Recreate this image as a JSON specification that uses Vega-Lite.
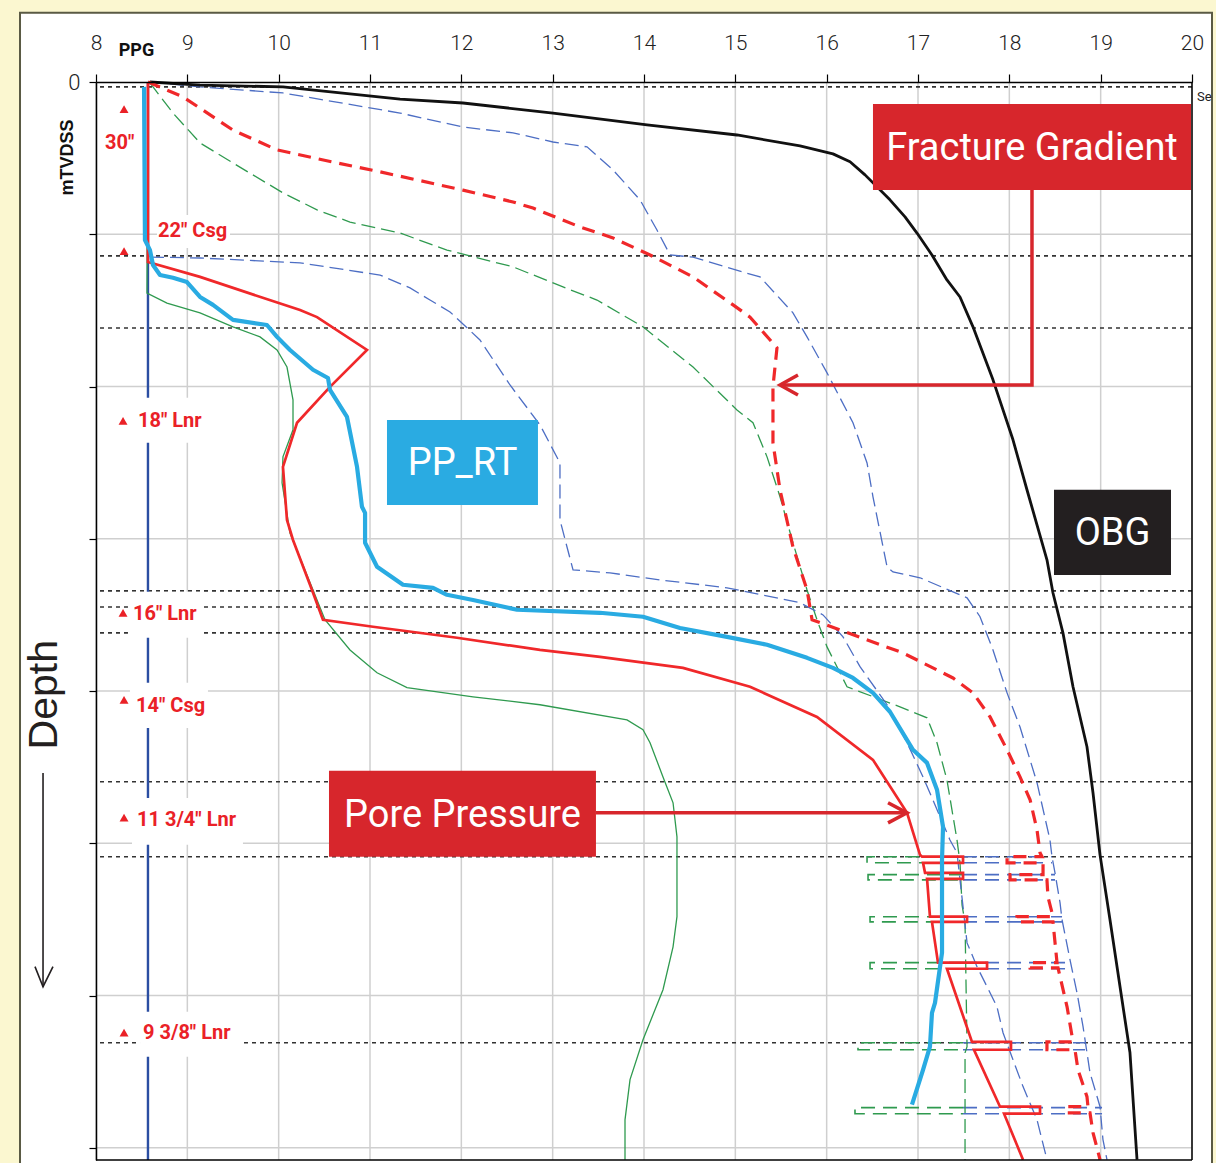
{
"$schema":"https://vega.github.io/schema/vega-lite/v6.json",
"width":1096,"height":1078,
"autosize":{"type":"none"},
"padding":{"left":96,"top":82,"right":24,"bottom":3},
"background":"#fbf7d0",
"config":{"view":{"stroke":null},"font":"Roboto"},
"datasets":{
"lines":[
{"s":"GL","o":1,"x":8.569,"d":0},{"s":"GL","o":2,"x":8.558,"d":693},{"s":"GL","o":3,"x":8.777,"d":726},{"s":"GL","o":4,"x":9.139,"d":758},{"s":"GL","o":5,"x":9.5,"d":804},{"s":"GL","o":6,"x":9.796,"d":837},{"s":"GL","o":7,"x":9.982,"d":880},{"s":"GL","o":8,"x":10.091,"d":936},{"s":"GL","o":9,"x":10.157,"d":1044},{"s":"GL","o":10,"x":10.157,"d":1142},{"s":"GL","o":11,"x":10.047,"d":1231},{"s":"GL","o":12,"x":10.037,"d":1316},{"s":"GL","o":13,"x":10.124,"d":1481},{"s":"GL","o":14,"x":10.376,"d":1668},{"s":"GL","o":15,"x":10.507,"d":1766},{"s":"GL","o":16,"x":10.781,"d":1865},{"s":"GL","o":17,"x":11.077,"d":1940},{"s":"GL","o":18,"x":11.405,"d":1989},{"s":"GL","o":19,"x":12.128,"d":2019},{"s":"GL","o":20,"x":12.861,"d":2045},{"s":"GL","o":21,"x":13.814,"d":2095},{"s":"GL","o":22,"x":13.989,"d":2127},{"s":"GL","o":23,"x":14.066,"d":2170},{"s":"GL","o":24,"x":14.208,"d":2282},{"s":"GL","o":25,"x":14.318,"d":2367},{"s":"GL","o":26,"x":14.361,"d":2479},{"s":"GL","o":27,"x":14.361,"d":2741},{"s":"GL","o":28,"x":14.318,"d":2840},{"s":"GL","o":29,"x":14.208,"d":2981},{"s":"GL","o":30,"x":13.989,"d":3145},{"s":"GL","o":31,"x":13.847,"d":3276},{"s":"GL","o":32,"x":13.792,"d":3408},{"s":"GL","o":33,"x":13.792,"d":3539},
{"s":"GU","o":1,"x":8.591,"d":3},{"s":"GU","o":2,"x":8.843,"d":102},{"s":"GU","o":3,"x":9.139,"d":200},{"s":"GU","o":4,"x":9.5,"d":266},{"s":"GU","o":5,"x":10.047,"d":364},{"s":"GU","o":6,"x":10.42,"d":420},{"s":"GU","o":7,"x":10.781,"d":460},{"s":"GU","o":8,"x":11.329,"d":496},{"s":"GU","o":9,"x":11.843,"d":552},{"s":"GU","o":10,"x":12.566,"d":607},{"s":"GU","o":11,"x":13.113,"d":673},{"s":"GU","o":12,"x":13.485,"d":716},{"s":"GU","o":13,"x":13.989,"d":804},{"s":"GU","o":14,"x":14.537,"d":936},{"s":"GU","o":15,"x":15.018,"d":1077},{"s":"GU","o":16,"x":15.193,"d":1119},{"s":"GU","o":17,"x":15.347,"d":1231},{"s":"GU","o":18,"x":15.489,"d":1362},{"s":"GU","o":19,"x":15.631,"d":1513},{"s":"GU","o":20,"x":15.785,"d":1668},{"s":"GU","o":21,"x":15.894,"d":1766},{"s":"GU","o":22,"x":16.004,"d":1855},{"s":"GU","o":23,"x":16.223,"d":1986},{"s":"GU","o":24,"x":16.803,"d":2052},{"s":"GU","o":25,"x":17.099,"d":2088},{"s":"GU","o":26,"x":17.208,"d":2170},{"s":"GU","o":27,"x":17.317,"d":2292},{"s":"GU","o":28,"x":17.427,"d":2489},{"s":"GU","o":29,"x":17.46,"d":2564},{"s":"GU","o":30,"x":17.482,"d":2702},{"s":"GU","o":31,"x":17.515,"d":2761},{"s":"GU","o":32,"x":17.537,"d":3168},{"s":"GU","o":33,"x":17.515,"d":3188},{"s":"GU","o":34,"x":17.515,"d":3539},
{"s":"BM","o":1,"x":8.591,"d":575},{"s":"BM","o":2,"x":9.139,"d":578},{"s":"BM","o":3,"x":10.234,"d":594},{"s":"BM","o":4,"x":11.11,"d":634},{"s":"BM","o":5,"x":11.438,"d":676},{"s":"BM","o":6,"x":11.657,"d":716},{"s":"BM","o":7,"x":11.876,"d":755},{"s":"BM","o":8,"x":12.204,"d":847},{"s":"BM","o":9,"x":12.533,"d":995},{"s":"BM","o":10,"x":12.861,"d":1126},{"s":"BM","o":11,"x":13.08,"d":1251},{"s":"BM","o":12,"x":13.08,"d":1438},{"s":"BM","o":13,"x":13.157,"d":1527},{"s":"BM","o":14,"x":13.223,"d":1602},{"s":"BM","o":15,"x":13.628,"d":1612},{"s":"BM","o":16,"x":14.175,"d":1635},{"s":"BM","o":17,"x":14.909,"d":1661},{"s":"BM","o":18,"x":15.708,"d":1710},{"s":"BM","o":19,"x":15.96,"d":1750},{"s":"BM","o":20,"x":16.179,"d":1822},{"s":"BM","o":21,"x":16.365,"d":1920},{"s":"BM","o":22,"x":16.661,"d":2045},{"s":"BM","o":23,"x":16.88,"d":2170},{"s":"BM","o":24,"x":17.055,"d":2282},{"s":"BM","o":25,"x":17.35,"d":2489},{"s":"BM","o":26,"x":17.427,"d":2531},{"s":"BM","o":27,"x":17.46,"d":2620},{"s":"BM","o":28,"x":17.493,"d":2708},{"s":"BM","o":29,"x":17.537,"d":2827},{"s":"BM","o":30,"x":17.646,"d":2905},{"s":"BM","o":31,"x":17.756,"d":2971},{"s":"BM","o":32,"x":17.865,"d":3037},{"s":"BM","o":33,"x":17.931,"d":3122},{"s":"BM","o":34,"x":18.04,"d":3211},{"s":"BM","o":35,"x":18.15,"d":3299},{"s":"BM","o":36,"x":18.303,"d":3408},{"s":"BM","o":37,"x":18.412,"d":3539},
{"s":"BR","o":1,"x":8.591,"d":0},{"s":"BR","o":2,"x":9.139,"d":16},{"s":"BR","o":3,"x":10.047,"d":36},{"s":"BR","o":4,"x":11.329,"d":102},{"s":"BR","o":5,"x":12.018,"d":148},{"s":"BR","o":6,"x":12.566,"d":167},{"s":"BR","o":7,"x":13.004,"d":197},{"s":"BR","o":8,"x":13.376,"d":213},{"s":"BR","o":9,"x":13.661,"d":289},{"s":"BR","o":10,"x":13.956,"d":387},{"s":"BR","o":11,"x":14.142,"d":486},{"s":"BR","o":12,"x":14.285,"d":568},{"s":"BR","o":13,"x":14.537,"d":575},{"s":"BR","o":14,"x":15.084,"d":624},{"s":"BR","o":15,"x":15.27,"d":640},{"s":"BR","o":16,"x":15.631,"d":758},{"s":"BR","o":17,"x":15.785,"d":837},{"s":"BR","o":18,"x":16.004,"d":955},{"s":"BR","o":19,"x":16.288,"d":1119},{"s":"BR","o":20,"x":16.442,"d":1251},{"s":"BR","o":21,"x":16.507,"d":1362},{"s":"BR","o":22,"x":16.661,"d":1592},{"s":"BR","o":23,"x":16.726,"d":1609},{"s":"BR","o":24,"x":17.022,"d":1628},{"s":"BR","o":25,"x":17.537,"d":1694},{"s":"BR","o":26,"x":17.679,"d":1756},{"s":"BR","o":27,"x":17.821,"d":1865},{"s":"BR","o":28,"x":17.975,"d":2006},{"s":"BR","o":29,"x":18.117,"d":2118},{"s":"BR","o":30,"x":18.303,"d":2301},{"s":"BR","o":31,"x":18.445,"d":2489},{"s":"BR","o":32,"x":18.467,"d":2544},{"s":"BR","o":33,"x":18.5,"d":2597},{"s":"BR","o":34,"x":18.555,"d":2695},{"s":"BR","o":35,"x":18.577,"d":2751},{"s":"BR","o":36,"x":18.664,"d":2882},{"s":"BR","o":37,"x":18.741,"d":2991},{"s":"BR","o":38,"x":18.807,"d":3102},{"s":"BR","o":39,"x":18.883,"d":3253},{"s":"BR","o":40,"x":18.993,"d":3365},{"s":"BR","o":41,"x":19.025,"d":3473},{"s":"BR","o":42,"x":19.069,"d":3539},
{"s":"OBG","o":1,"x":8.591,"d":0},{"s":"OBG","o":2,"x":9.139,"d":10},{"s":"OBG","o":3,"x":10.047,"d":16},{"s":"OBG","o":4,"x":11.329,"d":56},{"s":"OBG","o":5,"x":12.018,"d":69},{"s":"OBG","o":6,"x":13.004,"d":102},{"s":"OBG","o":7,"x":14.033,"d":141},{"s":"OBG","o":8,"x":15.018,"d":174},{"s":"OBG","o":9,"x":15.708,"d":210},{"s":"OBG","o":10,"x":16.069,"d":236},{"s":"OBG","o":11,"x":16.256,"d":262},{"s":"OBG","o":12,"x":16.42,"d":305},{"s":"OBG","o":13,"x":16.693,"d":387},{"s":"OBG","o":14,"x":16.858,"d":443},{"s":"OBG","o":15,"x":16.989,"d":496},{"s":"OBG","o":16,"x":17.153,"d":568},{"s":"OBG","o":17,"x":17.317,"d":650},{"s":"OBG","o":18,"x":17.46,"d":706},{"s":"OBG","o":19,"x":17.602,"d":804},{"s":"OBG","o":20,"x":17.821,"d":978},{"s":"OBG","o":21,"x":18.04,"d":1175},{"s":"OBG","o":22,"x":18.193,"d":1339},{"s":"OBG","o":23,"x":18.412,"d":1569},{"s":"OBG","o":24,"x":18.478,"d":1678},{"s":"OBG","o":25,"x":18.587,"d":1809},{"s":"OBG","o":26,"x":18.697,"d":1986},{"s":"OBG","o":27,"x":18.85,"d":2183},{"s":"OBG","o":28,"x":18.916,"d":2334},{"s":"OBG","o":29,"x":18.993,"d":2538},{"s":"OBG","o":30,"x":19.102,"d":2751},{"s":"OBG","o":31,"x":19.212,"d":2971},{"s":"OBG","o":32,"x":19.321,"d":3188},{"s":"OBG","o":33,"x":19.398,"d":3539},
{"s":"FG","o":1,"x":8.569,"d":0},{"s":"FG","o":2,"x":8.953,"d":49},{"s":"FG","o":3,"x":9.5,"d":158},{"s":"FG","o":4,"x":9.982,"d":223},{"s":"FG","o":5,"x":10.595,"d":263},{"s":"FG","o":6,"x":11.11,"d":295},{"s":"FG","o":7,"x":12.018,"d":355},{"s":"FG","o":8,"x":12.566,"d":394},{"s":"FG","o":9,"x":12.785,"d":414},{"s":"FG","o":10,"x":13.299,"d":476},{"s":"FG","o":11,"x":13.661,"d":512},{"s":"FG","o":12,"x":14.066,"d":568},{"s":"FG","o":13,"x":14.537,"d":640},{"s":"FG","o":14,"x":14.975,"d":732},{"s":"FG","o":15,"x":15.161,"d":772},{"s":"FG","o":16,"x":15.456,"d":873},{"s":"FG","o":17,"x":15.412,"d":1001},{"s":"FG","o":18,"x":15.412,"d":1185},{"s":"FG","o":19,"x":15.489,"d":1339},{"s":"FG","o":20,"x":15.631,"d":1527},{"s":"FG","o":21,"x":15.785,"d":1668},{"s":"FG","o":22,"x":15.84,"d":1766},{"s":"FG","o":23,"x":16.146,"d":1799},{"s":"FG","o":24,"x":16.836,"d":1875},{"s":"FG","o":25,"x":17.383,"d":1957},{"s":"FG","o":26,"x":17.602,"d":2006},{"s":"FG","o":27,"x":17.789,"d":2085},{"s":"FG","o":28,"x":17.975,"d":2193},{"s":"FG","o":29,"x":18.117,"d":2282},{"s":"FG","o":30,"x":18.227,"d":2357},{"s":"FG","o":31,"x":18.303,"d":2456},{"s":"FG","o":32,"x":18.336,"d":2531},{"s":"FG","o":33,"x":18.358,"d":2544},{"s":"FG","o":34,"x":17.975,"d":2544},{"s":"FG","o":35,"x":17.975,"d":2564},{"s":"FG","o":36,"x":18.369,"d":2564},{"s":"FG","o":37,"x":18.369,"d":2603},{"s":"FG","o":38,"x":18.008,"d":2603},{"s":"FG","o":39,"x":18.008,"d":2620},{"s":"FG","o":40,"x":18.412,"d":2620},{"s":"FG","o":41,"x":18.423,"d":2676},{"s":"FG","o":42,"x":18.478,"d":2741},{"s":"FG","o":43,"x":18.084,"d":2741},{"s":"FG","o":44,"x":18.084,"d":2758},{"s":"FG","o":45,"x":18.478,"d":2758},{"s":"FG","o":46,"x":18.522,"d":2892},{"s":"FG","o":47,"x":18.227,"d":2892},{"s":"FG","o":48,"x":18.227,"d":2909},{"s":"FG","o":49,"x":18.533,"d":2909},{"s":"FG","o":50,"x":18.632,"d":3037},{"s":"FG","o":51,"x":18.697,"d":3152},{"s":"FG","o":52,"x":18.412,"d":3152},{"s":"FG","o":53,"x":18.412,"d":3178},{"s":"FG","o":54,"x":18.719,"d":3178},{"s":"FG","o":55,"x":18.752,"d":3244},{"s":"FG","o":56,"x":18.85,"d":3332},{"s":"FG","o":57,"x":18.861,"d":3365},{"s":"FG","o":58,"x":18.632,"d":3365},{"s":"FG","o":59,"x":18.632,"d":3385},{"s":"FG","o":60,"x":18.883,"d":3385},{"s":"FG","o":61,"x":18.916,"d":3450},{"s":"FG","o":62,"x":18.993,"d":3539},
{"s":"PP","o":1,"x":8.569,"d":0},{"s":"PP","o":2,"x":8.569,"d":591},{"s":"PP","o":3,"x":9.139,"d":640},{"s":"PP","o":4,"x":10.234,"d":749},{"s":"PP","o":5,"x":10.42,"d":772},{"s":"PP","o":6,"x":10.967,"d":880},{"s":"PP","o":7,"x":10.562,"d":1001},{"s":"PP","o":8,"x":10.201,"d":1119},{"s":"PP","o":9,"x":10.047,"d":1264},{"s":"PP","o":10,"x":10.091,"d":1438},{"s":"PP","o":11,"x":10.157,"d":1504},{"s":"PP","o":12,"x":10.365,"d":1668},{"s":"PP","o":13,"x":10.485,"d":1766},{"s":"PP","o":14,"x":11.033,"d":1789},{"s":"PP","o":15,"x":11.953,"d":1825},{"s":"PP","o":16,"x":12.861,"d":1865},{"s":"PP","o":17,"x":13.518,"d":1888},{"s":"PP","o":18,"x":14.427,"d":1924},{"s":"PP","o":19,"x":15.161,"d":1986},{"s":"PP","o":20,"x":15.894,"d":2085},{"s":"PP","o":21,"x":16.507,"d":2226},{"s":"PP","o":22,"x":16.88,"d":2400},{"s":"PP","o":23,"x":17.022,"d":2538},{"s":"PP","o":24,"x":17.044,"d":2544},{"s":"PP","o":25,"x":17.493,"d":2544},{"s":"PP","o":26,"x":17.493,"d":2564},{"s":"PP","o":27,"x":17.055,"d":2564},{"s":"PP","o":28,"x":17.077,"d":2597},{"s":"PP","o":29,"x":17.493,"d":2597},{"s":"PP","o":30,"x":17.493,"d":2617},{"s":"PP","o":31,"x":17.099,"d":2617},{"s":"PP","o":32,"x":17.131,"d":2741},{"s":"PP","o":33,"x":17.537,"d":2741},{"s":"PP","o":34,"x":17.537,"d":2758},{"s":"PP","o":35,"x":17.153,"d":2758},{"s":"PP","o":36,"x":17.219,"d":2892},{"s":"PP","o":37,"x":17.756,"d":2892},{"s":"PP","o":38,"x":17.756,"d":2912},{"s":"PP","o":39,"x":17.317,"d":2912},{"s":"PP","o":40,"x":17.591,"d":3152},{"s":"PP","o":41,"x":18.018,"d":3152},{"s":"PP","o":42,"x":18.018,"d":3178},{"s":"PP","o":43,"x":17.613,"d":3178},{"s":"PP","o":44,"x":17.898,"d":3365},{"s":"PP","o":45,"x":18.336,"d":3365},{"s":"PP","o":46,"x":18.336,"d":3388},{"s":"PP","o":47,"x":17.942,"d":3388},{"s":"PP","o":48,"x":18.15,"d":3539},
{"s":"PPRT","o":1,"x":8.526,"d":16},{"s":"PPRT","o":2,"x":8.536,"d":519},{"s":"PPRT","o":3,"x":8.591,"d":552},{"s":"PPRT","o":4,"x":8.624,"d":601},{"s":"PPRT","o":5,"x":8.701,"d":634},{"s":"PPRT","o":6,"x":8.843,"d":643},{"s":"PPRT","o":7,"x":8.996,"d":657},{"s":"PPRT","o":8,"x":9.139,"d":706},{"s":"PPRT","o":9,"x":9.281,"d":732},{"s":"PPRT","o":10,"x":9.5,"d":781},{"s":"PPRT","o":11,"x":9.872,"d":798},{"s":"PPRT","o":12,"x":9.982,"d":837},{"s":"PPRT","o":13,"x":10.124,"d":880},{"s":"PPRT","o":14,"x":10.376,"d":945},{"s":"PPRT","o":15,"x":10.54,"d":972},{"s":"PPRT","o":16,"x":10.562,"d":1011},{"s":"PPRT","o":17,"x":10.748,"d":1100},{"s":"PPRT","o":18,"x":10.858,"d":1264},{"s":"PPRT","o":19,"x":10.912,"d":1395},{"s":"PPRT","o":20,"x":10.946,"d":1415},{"s":"PPRT","o":21,"x":10.946,"d":1513},{"s":"PPRT","o":22,"x":11.077,"d":1592},{"s":"PPRT","o":23,"x":11.361,"d":1651},{"s":"PPRT","o":24,"x":11.69,"d":1661},{"s":"PPRT","o":25,"x":11.843,"d":1684},{"s":"PPRT","o":26,"x":12.128,"d":1701},{"s":"PPRT","o":27,"x":12.61,"d":1733},{"s":"PPRT","o":28,"x":13.518,"d":1743},{"s":"PPRT","o":29,"x":13.989,"d":1756},{"s":"PPRT","o":30,"x":14.394,"d":1793},{"s":"PPRT","o":31,"x":14.909,"d":1822},{"s":"PPRT","o":32,"x":15.347,"d":1848},{"s":"PPRT","o":33,"x":15.785,"d":1891},{"s":"PPRT","o":34,"x":16.069,"d":1924},{"s":"PPRT","o":35,"x":16.288,"d":1957},{"s":"PPRT","o":36,"x":16.507,"d":2006},{"s":"PPRT","o":37,"x":16.693,"d":2068},{"s":"PPRT","o":38,"x":16.945,"d":2193},{"s":"PPRT","o":39,"x":17.099,"d":2236},{"s":"PPRT","o":40,"x":17.208,"d":2324},{"s":"PPRT","o":41,"x":17.274,"d":2446},{"s":"PPRT","o":42,"x":17.263,"d":2554},{"s":"PPRT","o":43,"x":17.263,"d":2859},{"s":"PPRT","o":44,"x":17.186,"d":3024},{"s":"PPRT","o":45,"x":17.153,"d":3057},{"s":"PPRT","o":46,"x":17.131,"d":3168},{"s":"PPRT","o":47,"x":17.055,"d":3244},{"s":"PPRT","o":48,"x":16.934,"d":3358}
],
"stepsG":[
{"g":"g1","o":1,"x":17.493,"d":2544},{"g":"g1","o":2,"x":16.442,"d":2544},{"g":"g1","o":3,"x":16.442,"d":2564},{"g":"g1","o":4,"x":17.493,"d":2564},
{"g":"g2","o":1,"x":17.493,"d":2603},{"g":"g2","o":2,"x":16.453,"d":2603},{"g":"g2","o":3,"x":16.453,"d":2620},{"g":"g2","o":4,"x":17.493,"d":2620},
{"g":"g3","o":1,"x":17.493,"d":2741},{"g":"g3","o":2,"x":16.475,"d":2741},{"g":"g3","o":3,"x":16.475,"d":2758},{"g":"g3","o":4,"x":17.493,"d":2758},
{"g":"g4","o":1,"x":17.493,"d":2892},{"g":"g4","o":2,"x":16.475,"d":2892},{"g":"g4","o":3,"x":16.475,"d":2912},{"g":"g4","o":4,"x":17.493,"d":2912},
{"g":"g5","o":1,"x":17.493,"d":3155},{"g":"g5","o":2,"x":16.343,"d":3155},{"g":"g5","o":3,"x":16.343,"d":3178},{"g":"g5","o":4,"x":17.493,"d":3178},
{"g":"g6","o":1,"x":17.493,"d":3368},{"g":"g6","o":2,"x":16.31,"d":3368},{"g":"g6","o":3,"x":16.31,"d":3388},{"g":"g6","o":4,"x":17.493,"d":3388}
],
"stepsB":[
{"g":"b1a","o":1,"x":17.493,"d":2544},{"g":"b1a","o":2,"x":18.467,"d":2544},{"g":"b1b","o":1,"x":17.493,"d":2564},{"g":"b1b","o":2,"x":18.467,"d":2564},
{"g":"b2a","o":1,"x":17.493,"d":2603},{"g":"b2a","o":2,"x":18.5,"d":2603},{"g":"b2b","o":1,"x":17.493,"d":2620},{"g":"b2b","o":2,"x":18.5,"d":2620},
{"g":"b3a","o":1,"x":17.493,"d":2741},{"g":"b3a","o":2,"x":18.577,"d":2741},{"g":"b3b","o":1,"x":17.493,"d":2758},{"g":"b3b","o":2,"x":18.577,"d":2758},
{"g":"b4a","o":1,"x":17.493,"d":2892},{"g":"b4a","o":2,"x":18.686,"d":2892},{"g":"b4b","o":1,"x":17.493,"d":2912},{"g":"b4b","o":2,"x":18.686,"d":2912},
{"g":"b5a","o":1,"x":17.493,"d":3155},{"g":"b5a","o":2,"x":18.829,"d":3155},{"g":"b5b","o":1,"x":17.493,"d":3178},{"g":"b5b","o":2,"x":18.829,"d":3178},
{"g":"b6a","o":1,"x":17.493,"d":3368},{"g":"b6a","o":2,"x":19.015,"d":3368},{"g":"b6b","o":1,"x":17.493,"d":3388},{"g":"b6b","o":2,"x":19.015,"d":3388}
],
"arrows":[
{"g":"fa","o":1,"x":18.248,"d":355},{"g":"fa","o":2,"x":18.248,"d":995},{"g":"fa","o":3,"x":15.489,"d":995},
{"g":"fh","o":1,"x":15.686,"d":962},{"g":"fh","o":2,"x":15.489,"d":995},{"g":"fh","o":3,"x":15.686,"d":1028},
{"g":"pa","o":1,"x":13.474,"d":2400},{"g":"pa","o":2,"x":16.88,"d":2400},
{"g":"ph","o":1,"x":16.672,"d":2367},{"g":"ph","o":2,"x":16.88,"d":2400},{"g":"ph","o":3,"x":16.672,"d":2433}
]
},
"layer":[
{"data":{"values":[{"x":7.168,"x2":20.219,"d":-227,"d2":3600}]},
 "mark":{"type":"rect","fill":"#ffffff","stroke":"#5a5a44","strokeWidth":2},
 "encoding":{
  "x":{"field":"x","type":"quantitative","scale":{"domain":[8,20],"nice":false,"zero":false},
   "axis":{"orient":"top","values":[8,9,10,11,12,13,14,15,16,17,18,19,20],"format":"d","grid":false,"zindex":1,"labelFlush":false,"labelOverlap":false,
    "domainColor":"#000000","domainWidth":1.5,"tickColor":"#000000","tickSize":8,"tickWidth":1.2,
    "labelFont":"Roboto","labelFontWeight":300,"labelFontSize":21,"labelColor":"#222222","labelPadding":21,
    "title":"PPG","titleFont":"Roboto","titleFontSize":18,"titleFontWeight":"bold","titleColor":"#111111",
    "titleX":40,"titleY":-32,"titleAlign":"center","titleBaseline":"middle","titleAngle":0}},
  "x2":{"field":"x2"},
  "y":{"field":"d","type":"quantitative","scale":{"domain":[0,3540],"nice":false,"zero":false,"reverse":true},
   "axis":{"values":[0,500,1000,1500,2000,2500,3000,3500],"grid":false,"zindex":1,
    "domainColor":"#000000","domainWidth":1.5,"tickColor":"#000000","tickSize":7,"tickWidth":1.2,
    "labelExpr":"datum.value == 0 ? '0' : ''","labelFont":"Roboto","labelFontWeight":300,"labelFontSize":22,"labelColor":"#222222","labelPadding":9,
    "title":"mTVDSS","titleFont":"Liberation Sans","titleFontSize":18,"titleFontWeight":"bold","titleColor":"#111111",
    "titleX":-29,"titleY":75,"titleAlign":"center","titleBaseline":"middle","titleAngle":270}},
  "y2":{"field":"d2"}}},
{"data":{"values":[{"x":8},{"x":9},{"x":10},{"x":11},{"x":12},{"x":13},{"x":14},{"x":15},{"x":16},{"x":17},{"x":18},{"x":19},{"x":20}]},
 "mark":{"type":"rule","color":"#cfcfcf","strokeWidth":1.5},
 "encoding":{"x":{"field":"x","type":"quantitative"}}},
{"data":{"values":[{"d":500},{"d":1000},{"d":1500},{"d":2000},{"d":2500},{"d":3000},{"d":3500}]},
 "mark":{"type":"rule","color":"#cfcfcf","strokeWidth":1.5},
 "encoding":{"y":{"field":"d","type":"quantitative"}}},
{"data":{"values":[{"d":16},{"d":571},{"d":808},{"d":1671},{"d":1724},{"d":1809},{"d":2298},{"d":2544},{"d":3155}]},
 "mark":{"type":"rule","color":"#333333","strokeWidth":1.6,"strokeDash":[4,4]},
 "encoding":{"y":{"field":"d","type":"quantitative"}}},
{"data":{"values":[{"x":8.569}]},
 "mark":{"type":"rule","color":"#2b4ea2","strokeWidth":2.4},
 "encoding":{"x":{"field":"x","type":"quantitative"}}},
{"data":{"values":[
  {"x":8.668,"x2":9.467,"d":437,"d2":545},
  {"x":8.372,"x2":9.215,"d":1037,"d2":1185},
  {"x":8.35,"x2":9.139,"d":1674,"d2":1825},
  {"x":8.372,"x2":9.226,"d":1973,"d2":2121},
  {"x":8.394,"x2":9.609,"d":2351,"d2":2505},
  {"x":8.482,"x2":9.609,"d":3053,"d2":3201}]},
 "mark":{"type":"rect","fill":"#ffffff"},
 "encoding":{"x":{"field":"x","type":"quantitative"},"x2":{"field":"x2"},"y":{"field":"d","type":"quantitative"},"y2":{"field":"d2"}}},
{"data":{"name":"stepsG"},
 "mark":{"type":"line","color":"#2f9a4f","strokeWidth":1.6,"strokeDash":[14,8]},
 "encoding":{"x":{"field":"x","type":"quantitative"},"y":{"field":"d","type":"quantitative"},"detail":{"field":"g"},"order":{"field":"o"}}},
{"data":{"name":"stepsB"},
 "mark":{"type":"line","color":"#4d6ec4","strokeWidth":1.6,"strokeDash":[14,8]},
 "encoding":{"x":{"field":"x","type":"quantitative"},"y":{"field":"d","type":"quantitative"},"detail":{"field":"g"},"order":{"field":"o"}}},
{"data":{"name":"lines"},"transform":[{"filter":"datum.s == 'GL'"}],
 "mark":{"type":"line","color":"#2f9a4f","strokeWidth":1.3},
 "encoding":{"x":{"field":"x","type":"quantitative"},"y":{"field":"d","type":"quantitative"},"order":{"field":"o"}}},
{"data":{"name":"lines"},"transform":[{"filter":"datum.s == 'GU'"}],
 "mark":{"type":"line","color":"#2f9a4f","strokeWidth":1.3,"strokeDash":[14,6]},
 "encoding":{"x":{"field":"x","type":"quantitative"},"y":{"field":"d","type":"quantitative"},"order":{"field":"o"}}},
{"data":{"name":"lines"},"transform":[{"filter":"datum.s == 'BM'"}],
 "mark":{"type":"line","color":"#4d6ec4","strokeWidth":1.3,"strokeDash":[14,6]},
 "encoding":{"x":{"field":"x","type":"quantitative"},"y":{"field":"d","type":"quantitative"},"order":{"field":"o"}}},
{"data":{"name":"lines"},"transform":[{"filter":"datum.s == 'BR'"}],
 "mark":{"type":"line","color":"#4d6ec4","strokeWidth":1.3,"strokeDash":[14,6]},
 "encoding":{"x":{"field":"x","type":"quantitative"},"y":{"field":"d","type":"quantitative"},"order":{"field":"o"}}},
{"data":{"name":"lines"},"transform":[{"filter":"datum.s == 'OBG'"}],
 "mark":{"type":"line","color":"#111111","strokeWidth":2.8,"strokeJoin":"round"},
 "encoding":{"x":{"field":"x","type":"quantitative"},"y":{"field":"d","type":"quantitative"},"order":{"field":"o"}}},
{"data":{"name":"lines"},"transform":[{"filter":"datum.s == 'FG'"}],
 "mark":{"type":"line","color":"#f0282a","strokeWidth":3.2,"strokeDash":[13,8]},
 "encoding":{"x":{"field":"x","type":"quantitative"},"y":{"field":"d","type":"quantitative"},"order":{"field":"o"}}},
{"data":{"name":"lines"},"transform":[{"filter":"datum.s == 'PP'"}],
 "mark":{"type":"line","color":"#f0282a","strokeWidth":2.7},
 "encoding":{"x":{"field":"x","type":"quantitative"},"y":{"field":"d","type":"quantitative"},"order":{"field":"o"}}},
{"data":{"name":"lines"},"transform":[{"filter":"datum.s == 'PPRT'"}],
 "mark":{"type":"line","color":"#29abe2","strokeWidth":4.2,"strokeJoin":"round"},
 "encoding":{"x":{"field":"x","type":"quantitative"},"y":{"field":"d","type":"quantitative"},"order":{"field":"o"}}},
{"data":{"values":[{"x":20}]},
 "mark":{"type":"rule","color":"#000000","strokeWidth":1.5},
 "encoding":{"x":{"field":"x","type":"quantitative"}}},
{"data":{"values":[{"d":3540}]},
 "mark":{"type":"rule","color":"#000000","strokeWidth":1.5},
 "encoding":{"y":{"field":"d","type":"quantitative"}}},
{"data":{"values":[
  {"x":16.507,"x2":19.989,"d":72,"d2":355,"c":"#d7262c"},
  {"x":11.186,"x2":12.839,"d":1110,"d2":1389,"c":"#2aabe2"},
  {"x":18.489,"x2":19.77,"d":1339,"d2":1619,"c":"#231f20"},
  {"x":10.551,"x2":13.474,"d":2262,"d2":2544,"c":"#d7262c"}]},
 "mark":{"type":"rect"},
 "encoding":{"x":{"field":"x","type":"quantitative"},"x2":{"field":"x2"},"y":{"field":"d","type":"quantitative"},"y2":{"field":"d2"},
  "fill":{"field":"c","type":"nominal","scale":null,"legend":null}}},
{"data":{"name":"arrows"},
 "mark":{"type":"line","color":"#d7262c","strokeWidth":3.5},
 "encoding":{"x":{"field":"x","type":"quantitative"},"y":{"field":"d","type":"quantitative"},"detail":{"field":"g"},"order":{"field":"o"}}},
{"data":{"values":[
  {"t":"Fracture Gradient","x":18.248,"d":213},
  {"t":"PP_RT","x":12.013,"d":1249},
  {"t":"OBG","x":19.13,"d":1479},
  {"t":"Pore Pressure","x":12.013,"d":2403}]},
 "mark":{"type":"text","color":"#ffffff","font":"Roboto","fontSize":38,"align":"center","baseline":"middle","dy":2},
 "encoding":{"x":{"field":"x","type":"quantitative"},"y":{"field":"d","type":"quantitative"},"text":{"field":"t"}}},
{"data":{"values":[
  {"t":"30\"","x":8.099,"d":200},
  {"t":"22\" Csg","x":8.679,"d":489},
  {"t":"18\" Lnr","x":8.46,"d":1113},
  {"t":"16\" Lnr","x":8.405,"d":1747},
  {"t":"14\" Csg","x":8.438,"d":2049},
  {"t":"11 3/4\" Lnr","x":8.449,"d":2423},
  {"t":"9 3/8\" Lnr","x":8.515,"d":3122}]},
 "mark":{"type":"text","color":"#ea2127","font":"Roboto","fontSize":20,"fontWeight":"bold","align":"left","baseline":"middle"},
 "encoding":{"x":{"field":"x","type":"quantitative"},"y":{"field":"d","type":"quantitative"},"text":{"field":"t"}}},
{"data":{"values":[{"x":8.307,"d":89},{"x":8.307,"d":555},{"x":8.296,"d":1113},{"x":8.296,"d":1743},{"x":8.307,"d":2029},{"x":8.307,"d":2416},{"x":8.307,"d":3122}]},
 "mark":{"type":"point","shape":"triangle-up","filled":true,"color":"#ea2127","size":80,"opacity":1},
 "encoding":{"x":{"field":"x","type":"quantitative"},"y":{"field":"d","type":"quantitative"}}},
{"data":{"values":[{"t":"Depth","x":7.442,"d":2012}]},
 "mark":{"type":"text","color":"#231f20","font":"Liberation Sans","fontSize":41,"angle":270,"align":"center","baseline":"middle"},
 "encoding":{"x":{"field":"x","type":"quantitative"},"y":{"field":"d","type":"quantitative"},"text":{"field":"t"}}},
{"data":{"values":[
  {"g":"da","o":1,"x":7.42,"d":2269},{"g":"da","o":2,"x":7.42,"d":2971},
  {"g":"dh","o":1,"x":7.332,"d":2905},{"g":"dh","o":2,"x":7.42,"d":2971},{"g":"dh","o":3,"x":7.529,"d":2905}]},
 "mark":{"type":"line","color":"#231f20","strokeWidth":1.6},
 "encoding":{"x":{"field":"x","type":"quantitative"},"y":{"field":"d","type":"quantitative"},"detail":{"field":"g"},"order":{"field":"o"}}},
{"data":{"values":[{"t":"Se","x":20.055,"d":49}]},
 "mark":{"type":"text","color":"#222222","font":"Roboto","fontSize":13,"align":"left","baseline":"middle"},
 "encoding":{"x":{"field":"x","type":"quantitative"},"y":{"field":"d","type":"quantitative"},"text":{"field":"t"}}}
]
}
